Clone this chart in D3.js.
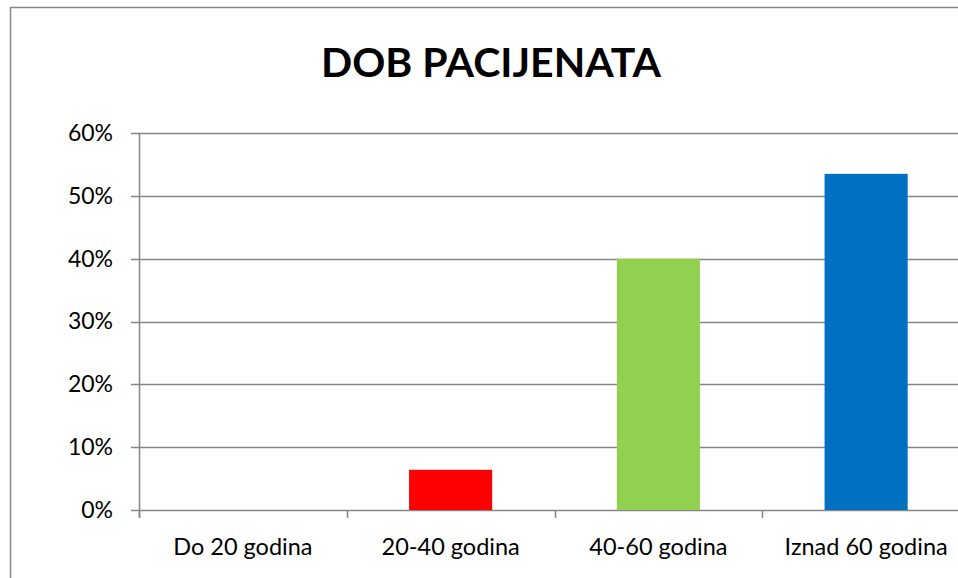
<!DOCTYPE html>
<html>
<head>
<meta charset="utf-8">
<script src="https://cdn.jsdelivr.net/npm/d3@7"></script>
<style>
  body { margin: 0; background: #fff; }
  svg { display: block; }
  svg text { font-family: Lato, "Open Sans", sans-serif; }
</style>
</head>
<body>
<svg></svg>
<script>
const width = 958;
const height = 578;

// podaci
const categories = ["Do 20 godina", "20-40 godina", "40-60 godina", "Iznad 60 godina"];
const values = [0, 0.064, 0.40, 0.535];
const barColors = ["#4f81bd", "#ff0000", "#92d050", "#0070c0"];
const yTicks = [0, 0.1, 0.2, 0.3, 0.4, 0.5, 0.6];
const title = "DOB PACIJENATA";

const plotLeft = 139;
const plotRight = 970;
const plotTop = 133;
const plotBottom = 510;
const gridColor = "#868686";

let svg = d3.select("svg")
    .attr("width", width)
    .attr("height", height);

// okvir grafikona
svg.append("rect")
    .attr("x", 10.5)
    .attr("y", 7.5)
    .attr("width", 1000)
    .attr("height", 700)
    .attr("fill", "#fff")
    .attr("stroke", gridColor)
    .attr("stroke-width", 1.5);

svg.append("text")
    .attr("x", 491)
    .attr("y", 77)
    .attr("text-anchor", "middle")
    .style("font-size", "41px")
    .style("font-weight", "bold")
    .text(title);

let scaleX = d3.scaleBand()
    .domain(categories)
    .range([plotLeft, plotRight]);

let scaleY = d3.scaleLinear()
    .domain([0, 0.6])
    .range([plotBottom, plotTop]);

// mreža
svg.append("g")
    .selectAll("line")
    .data(yTicks)
    .enter()
    .append("line")
    .attr("x1", plotLeft - 8)
    .attr("x2", plotRight)
    .attr("y1", d => Math.round(scaleY(d)) + 0.5)
    .attr("y2", d => Math.round(scaleY(d)) + 0.5)
    .attr("stroke", gridColor)
    .attr("stroke-width", 1.5);

// os Y
let axisY = d3.axisLeft(scaleY)
    .tickValues(yTicks)
    .tickFormat(d3.format(".0%"))
    .tickSize(0)
    .tickPadding(26);

let gY = svg.append("g")
    .attr("transform", `translate(${plotLeft}, 0)`)
    .call(axisY)
    .attr("font-family", null);
gY.select(".domain").remove();
gY.selectAll("text")
    .style("font-size", "23px")
    .attr("fill", "#000");

// stupci
svg.selectAll(".bar")
    .data(categories)
    .enter()
    .append("rect")
    .attr("class", "bar")
    .attr("x", d => scaleX(d) + scaleX.bandwidth() * 0.3)
    .attr("y", (d, i) => scaleY(values[i]))
    .attr("width", scaleX.bandwidth() * 0.4)
    .attr("height", (d, i) => plotBottom - scaleY(values[i]))
    .style("fill", (d, i) => barColors[i]);

// os X
let tickPos = categories.map(d => scaleX(d)).concat([plotRight]);

svg.append("line")
    .attr("x1", plotLeft + 0.5)
    .attr("x2", plotLeft + 0.5)
    .attr("y1", plotTop)
    .attr("y2", plotBottom + 8)
    .attr("stroke", gridColor)
    .attr("stroke-width", 1.5);

svg.append("g")
    .selectAll("line")
    .data(tickPos)
    .enter()
    .append("line")
    .attr("x1", d => Math.round(d) + 0.5)
    .attr("x2", d => Math.round(d) + 0.5)
    .attr("y1", plotBottom)
    .attr("y2", plotBottom + 8)
    .attr("stroke", gridColor)
    .attr("stroke-width", 1.5);

let axisX = d3.axisBottom(scaleX)
    .tickSize(0)
    .tickPadding(28);

let gX = svg.append("g")
    .attr("transform", `translate(0, ${plotBottom})`)
    .call(axisX)
    .attr("font-family", null);
gX.select(".domain").remove();
gX.selectAll("text")
    .style("font-size", "23.5px")
    .attr("fill", "#000");
</script>
</body>
</html>
